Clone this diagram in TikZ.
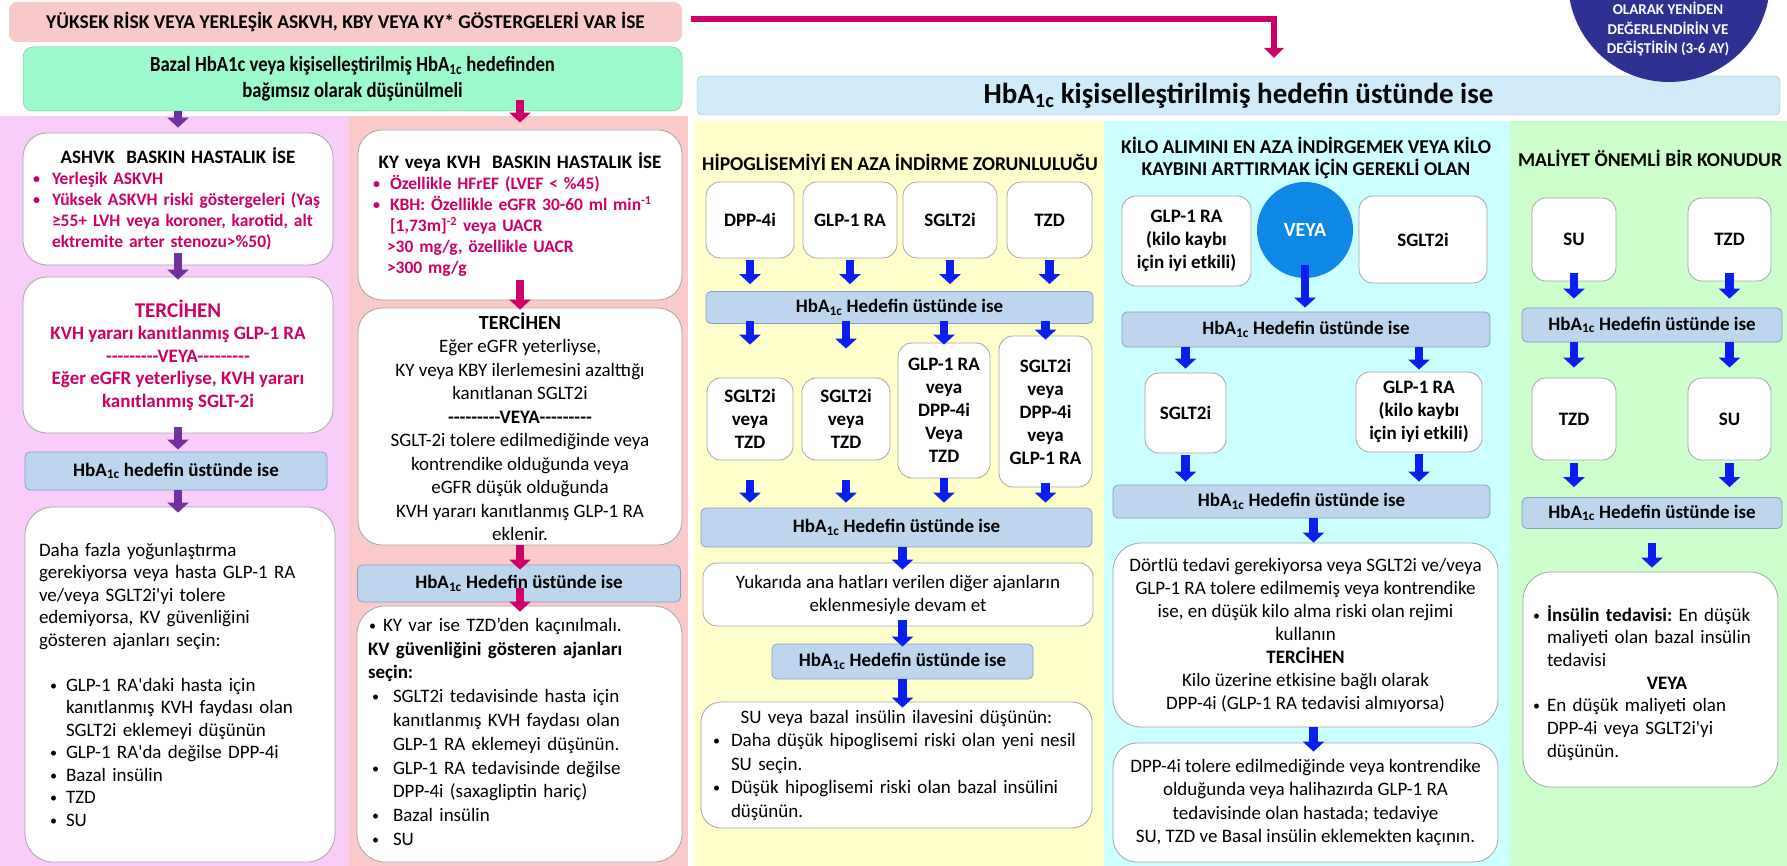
\documentclass[tikz,border=0pt]{standalone}
\usepackage{fontspec}
\setmainfont{Carlito}
\newfontfamily\grnfont[FakeStretch=0.87]{Carlito}
\usetikzlibrary{arrows.meta,calc}
\definecolor{colA}{RGB}{250,204,250}
\definecolor{colB}{RGB}{252,202,202}
\definecolor{colC}{RGB}{255,255,204}
\definecolor{colD}{RGB}{204,255,255}
\definecolor{colE}{RGB}{204,255,204}
\definecolor{topPink}{RGB}{250,202,202}
\definecolor{mint}{RGB}{157,250,205}
\definecolor{hbFill}{RGB}{189,214,238}
\definecolor{hbDraw}{RGB}{130,160,200}
\definecolor{barFill}{RGB}{208,236,250}
\definecolor{navy}{RGB}{46,49,146}
\definecolor{veyaBlue}{RGB}{15,135,228}
\definecolor{arrBlue}{RGB}{10,30,240}
\definecolor{arrPurple}{RGB}{112,48,160}
\definecolor{mag}{RGB}{204,0,102}
\definecolor{boxLine}{RGB}{165,165,165}
\setlength\parindent{0pt}
\frenchspacing
\newcommand\fsz[2]{\fontsize{#1}{#2}\selectfont}
\newcommand\hba{HbA\textsubscript{1c}}
\newcommand\bdot{{\fontsize{14}{14}\selectfont\raisebox{1pt}{\textbullet}}}
\newcommand\blt[2]{\par\hangindent=#2\hangafter=1\noindent\hbox to #2{\hskip#1\bdot\hfil}}
\newcommand\brk{\hfil\break}
\newcommand\veyaline{-{}-{}-{}-{}-{}-{}-{}-{}-VEYA-{}-{}-{}-{}-{}-{}-{}-{}-}
\newcommand\arw[5]{\draw[#1] ($(#2)+(0,#3)$) -- ($(#4)+(0,#5)$);}
\tikzset{
  wbox/.style={draw=boxLine, line width=0.8pt, fill=white, rounded corners=14pt, inner sep=0pt, align=center, font=\bfseries\fsz{19}{23}},
  hbox/.style={draw=hbDraw, line width=0.8pt, fill=hbFill, rounded corners=5pt, inner sep=0pt, font=\bfseries\fsz{19}{23}},
  arr/.style={line width=8.5pt, -{Triangle[width=21pt,length=10pt]}},
  barr/.style={arr, draw=arrBlue},
  parr/.style={arr, draw=arrPurple},
  marr/.style={arr, draw=mag},
  hdr/.style={font=\bfseries\fsz{19.6}{22}, align=center, inner sep=0pt},
}
\begin{document}
\begin{tikzpicture}[x=1pt,y=-1pt]
\useasboundingbox (0,0) rectangle (1787,866);
\fill[white] (0,0) rectangle (1787,866);
% column backgrounds
\fill[colA] (0,116) rectangle (349,866);
\fill[colB] (349,116) rectangle (688,866);
\fill[colC] (694,121) rectangle (1104,866);
\fill[colD] (1104,121) rectangle (1510,866);
\fill[colE] (1510,121) rectangle (1787,866);

% top
\node[fill=topPink, rounded corners=8pt, minimum width=673pt, minimum height=40pt, inner sep=0pt, font=\bfseries\fsz{19.5}{22}] (top) at (345.5,22) {YÜKSEK RİSK VEYA YERLEŞİK ASKVH, KBY VEYA KY* GÖSTERGELERİ VAR İSE};
\node[fill=mint, draw=mint!80!black, line width=0.5pt, rounded corners=10pt, minimum width=659pt, minimum height=64pt, inner sep=0pt, align=center, font=\grnfont\bfseries\fsz{21.5}{26}] (green) at (352.5,79) {Bazal HbA1c veya kişiselleştirilmiş \hba{} hedefinden\\bağımsız olarak düşünülmeli};
\node[draw=gray!60, fill=barFill, rounded corners=5pt, minimum width=1083pt, minimum height=39pt, inner sep=0pt, font=\bfseries\fsz{29}{33}] (bar) at (1238.5,95.5) {\hba{} kişiselleştirilmiş hedefin üstünde ise};
\node[circle, fill=navy, minimum size=202pt, inner sep=0pt] (circ) at (1669,-19) {};
\node[text=white, font=\bfseries\fsz{15}{19.5}, align=center, inner sep=0pt] (circt) at (1668,29) {OLARAK YENİDEN\\DEĞERLENDİRİN VE\\DEĞİŞTİRİN (3-6 AY)};
\coordinate (mtip) at (1274,58);
\draw[draw=mag, line width=6pt, -{Triangle[width=19pt,length=10pt]}, shorten <=9pt] ([yshift=3pt]top.east) -| (mtip);

% column 1
\node[wbox, rounded corners=24pt, text=mag, text width=290pt, inner xsep=10pt, minimum height=132pt, align=left, font=\bfseries\fsz{17.5}{21}] (ashvk) at (178,199) {{\centering\color{black}\fsz{19}{23}ASHVK\ \ BASKIN HASTALIK İSE\par}\blt{0pt}{19pt}Yerleşik ASKVH\blt{0pt}{19pt}Yüksek ASKVH riski göstergeleri (Yaş\brk ≥55+ LVH veya koroner, karotid, alt\brk ektremite arter stenozu>\%50)\par};
\node[wbox, rounded corners=24pt, text=mag, minimum width=310pt, minimum height=156pt, font=\bfseries\fsz{19}{22.5}] (terc1) at (178,355) {{\fsz{21}{25}TERCİHEN}\\KVH yararı kanıtlanmış GLP-1 RA\\\veyaline\\Eğer eGFR yeterliyse, KVH yararı\\kanıtlanmış SGLT-2i};
\node[hbox, minimum width=302pt, minimum height=38pt] (hb1) at (176,471) {\hba{} hedefin üstünde ise};
\node[wbox, rounded corners=28pt, text width=282pt, inner xsep=14pt, minimum height=355pt, align=left, font=\fsz{19}{22.5}] (fin1) at (180,684.5) {Daha fazla yoğunlaştırma\\gerekiyorsa veya hasta GLP-1 RA\\ve/veya SGLT2i\textquotesingle yi tolere\\edemiyorsa, KV güvenliğini\\gösteren ajanları seçin:\par\vspace{22.5pt}\blt{11pt}{27pt}GLP-1 RA\textquotesingle daki hasta için\brk kanıtlanmış KVH faydası olan\brk SGLT2i eklemeyi düşünün\blt{11pt}{27pt}GLP-1 RA\textquotesingle da değilse DPP-4i\blt{11pt}{27pt}Bazal insülin\blt{11pt}{27pt}TZD\blt{11pt}{27pt}SU\par};

% column 2
\node[wbox, rounded corners=24pt, text=mag, text width=300pt, inner xsep=12pt, minimum height=170pt, align=left, font=\bfseries\fsz{17.5}{21}] (ky) at (520,215) {{\centering\color{black}\fsz{19}{23}KY veya KVH\ \ BASKIN HASTALIK İSE\par}\blt{3pt}{20pt}Özellikle HFrEF (LVEF < \%45)\blt{3pt}{20pt}KBH: Özellikle eGFR 30-60 ml min\textsuperscript{-1}\brk [1,73m]\textsuperscript{-2} veya UACR\brk\hspace*{-3pt}>30 mg/g, özellikle UACR\brk\hspace*{-3pt}>300 mg/g\par};
\node[wbox, rounded corners=24pt, minimum width=324pt, minimum height=237pt, font=\fsz{19}{23.5}] (terc2) at (520,426.5) {{\bfseries\fsz{20}{24}TERCİHEN}\\Eğer eGFR yeterliyse,\\KY veya KBY ilerlemesini azalttığı\\kanıtlanan SGLT2i\\\textbf{\veyaline}\\SGLT-2i tolere edilmediğinde veya\\kontrendike olduğunda veya\\eGFR düşük olduğunda\\KVH yararı kanıtlanmış GLP-1 RA\\eklenir.};
\node[hbox, minimum width=323pt, minimum height=37pt] (hb2) at (519,583.5) {\hba{} Hedefin üstünde ise};
\node[wbox, rounded corners=28pt, text width=303pt, inner xsep=11pt, minimum height=256pt, align=left, font=\fsz{19}{23.8}] (fin2) at (519.5,734) {\blt{1pt}{15pt}KY var ise TZD’den kaçınılmalı.\par\textbf{KV güvenliğini gösteren ajanları\\seçin:}\blt{4pt}{25pt}SGLT2i tedavisinde hasta için\brk kanıtlanmış KVH faydası olan\brk GLP-1 RA eklemeyi düşünün.\blt{4pt}{25pt}GLP-1 RA tedavisinde değilse\brk DPP-4i (saxagliptin hariç)\blt{4pt}{25pt}Bazal insülin\blt{4pt}{25pt}SU\par\vspace{15pt}\hrule height 0pt};

% column 3
\node[hdr] (h3) at (900,162) {HİPOGLİSEMİYİ EN AZA İNDİRME ZORUNLULUĞU};
\node[wbox, minimum width=88pt, minimum height=76pt] (dpp) at (750,220) {DPP-4i};
\node[wbox, minimum width=94pt, minimum height=76pt] (glp) at (850,220) {GLP-1 RA};
\node[wbox, minimum width=94pt, minimum height=76pt] (sglt) at (950,220) {SGLT2i};
\node[wbox, minimum width=85pt, minimum height=76pt] (tzd) at (1049.5,220) {TZD};
\node[hbox, minimum width=387pt, minimum height=32pt] (hb3a) at (899.5,307.5) {\hba{} Hedefin üstünde ise};
\node[wbox, minimum width=86pt, minimum height=82pt] (r2a) at (750,419) {SGLT2i\\veya\\TZD};
\node[wbox, minimum width=88pt, minimum height=82pt] (r2b) at (846,419) {SGLT2i\\veya\\TZD};
\node[wbox, minimum width=92pt, minimum height=135pt] (r2c) at (944,410.5) {GLP-1 RA\\veya\\DPP-4i\\Veya\\TZD};
\node[wbox, minimum width=93pt, minimum height=151pt] (r2d) at (1045.5,411.5) {SGLT2i\\veya\\DPP-4i\\veya\\GLP-1 RA};
\node[hbox, minimum width=391pt, minimum height=39pt] (hb3b) at (896.5,527.5) {\hba{} Hedefin üstünde ise};
\node[wbox, minimum width=390pt, minimum height=63pt, font=\fsz{19}{23}] (yuk) at (898,594.5) {Yukarıda ana hatları verilen diğer ajanların\\eklenmesiyle devam et};
\node[hbox, minimum width=261pt, minimum height=35pt] (hb3c) at (902.5,661.5) {\hba{} Hedefin üstünde ise};
\node[wbox, rounded corners=20pt, text width=369pt, inner xsep=11pt, minimum height=126pt, align=left, font=\fsz{19}{23.5}] (su3) at (896.5,765) {{\centering SU veya bazal insülin ilavesini düşünün:\par}\blt{1pt}{19pt}Daha düşük hipoglisemi riski olan yeni nesil\brk SU seçin.\blt{1pt}{19pt}Düşük hipoglisemi riski olan bazal insülini\brk düşünün.\par};

% column 4
\node[hdr] (h4) at (1306,158) {KİLO ALIMINI EN AZA İNDİRGEMEK VEYA KİLO\\KAYBINI ARTTIRMAK İÇİN GEREKLİ OLAN};
\node[wbox, minimum width=129pt, minimum height=90pt] (g4a) at (1186.5,241) {GLP-1 RA\\(kilo kaybı\\için iyi etkili)};
\node[circle, fill=veyaBlue, minimum size=96pt, inner sep=0pt, text=white, font=\bfseries\fsz{20}{24}] (veya) at (1305,230) {VEYA};
\node[wbox, minimum width=128pt, minimum height=87pt] (s4a) at (1423,239.5) {SGLT2i};
\node[hbox, minimum width=368pt, minimum height=35pt] (hb4a) at (1306,329.5) {\hba{} Hedefin üstünde ise};
\node[wbox, minimum width=81pt, minimum height=80pt] (s4b) at (1185.5,413) {SGLT2i};
\node[wbox, minimum width=126pt, minimum height=80pt] (g4b) at (1419,412) {GLP-1 RA\\(kilo kaybı\\için iyi etkili)};
\node[hbox, minimum width=377pt, minimum height=33pt] (hb4b) at (1301.5,501.5) {\hba{} Hedefin üstünde ise};
\node[wbox, rounded corners=28pt, minimum width=385pt, minimum height=184pt, font=\fsz{19}{23}] (dort) at (1305.5,635) {Dörtlü tedavi gerekiyorsa veya SGLT2i ve/veya\\GLP-1 RA tolere edilmemiş veya kontrendike\\ise, en düşük kilo alma riski olan rejimi\\kullanın\\\textbf{TERCİHEN}\\Kilo üzerine etkisine bağlı olarak\\DPP-4i (GLP-1 RA tedavisi almıyorsa)};
\node[wbox, rounded corners=24pt, minimum width=385pt, minimum height=119pt, font=\fsz{19}{23.3}] (dpp4) at (1305.5,802.5) {DPP-4i tolere edilmediğinde veya kontrendike\\olduğunda veya halihazırda GLP-1 RA\\tedavisinde olan hastada; tedaviye\\SU, TZD ve Basal insülin eklemekten kaçının.};

% column 5
\node[hdr] (h5) at (1650,158) {MALİYET ÖNEMLİ BİR KONUDUR};
\node[wbox, minimum width=84pt, minimum height=83pt] (su5a) at (1574,239.5) {SU};
\node[wbox, minimum width=83pt, minimum height=83pt] (tzd5a) at (1729.5,239.5) {TZD};
\node[hbox, minimum width=260pt, minimum height=34pt] (hb5a) at (1652,325) {\hba{} Hedefin üstünde ise};
\node[wbox, minimum width=84pt, minimum height=82pt] (tzd5b) at (1574,419) {TZD};
\node[wbox, minimum width=83pt, minimum height=82pt] (su5b) at (1729.5,419) {SU};
\node[hbox, minimum width=260pt, minimum height=31pt] (hb5b) at (1652,513) {\hba{} Hedefin üstünde ise};
\node[wbox, rounded corners=28pt, text width=235pt, inner xsep=10pt, minimum height=215pt, align=left, font=\fsz{19}{22.7}] (ins5) at (1650.5,679.5) {\blt{0pt}{14pt}\textbf{İnsülin tedavisi:} En düşük\brk maliyeti olan bazal insülin\brk tedavisi\par{\centering\hspace*{33pt}\textbf{VEYA}\par}\blt{0pt}{14pt}En düşük maliyeti olan\brk DPP-4i veya SGLT2i\textquotesingle yi\brk düşünün.\par};

% arrows column 1
\arw{parr}{green.south -| ashvk.north}{0}{ashvk.north}{-5}
\arw{parr}{ashvk.south}{-12}{terc1.north}{3}
\arw{parr}{terc1.south}{-6}{terc1.south |- hb1.north}{-2}
\arw{parr}{hb1.south -| terc1.south}{0}{terc1.south |- fin1.north}{6}
% arrows column 2
\arw{marr}{green.south -| ky.north}{-11}{ky.north}{-7}
\arw{marr}{ky.south}{-20}{terc2.north}{2}
\arw{marr}{terc2.south}{0}{terc2.south |- hb2.north}{5}
\arw{marr}{hb2.south -| terc2.south}{-14}{terc2.south |- fin2.north}{6}
% arrows column 3
\foreach \n in {dpp,glp,sglt,tzd} {\arw{barr}{\n.south}{2}{\n.south |- hb3a.north}{-7}}
\arw{barr}{hb3a.south -| r2a.north}{-3}{r2a.north}{-33}
\arw{barr}{hb3a.south -| r2b.north}{-3}{r2b.north}{-29}
\arw{barr}{hb3a.south -| r2c.north}{-3}{r2c.north}{2}
\arw{barr}{hb3a.south -| r2d.north}{-3}{r2d.north}{4}
\arw{barr}{r2a.south}{20}{r2a.south |- hb3b.north}{-5}
\arw{barr}{r2b.south}{20}{r2b.south |- hb3b.north}{-5}
\arw{barr}{r2c.south}{0}{r2c.south |- hb3b.north}{-5}
\arw{barr}{r2d.south}{-4}{r2d.south |- hb3b.north}{-5}
\arw{barr}{hb3b.south -| hb3c.north}{0}{yuk.north -| hb3c.north}{7}
\arw{barr}{yuk.south -| hb3c.north}{-6}{hb3c.north}{3}
\arw{barr}{hb3c.south}{0}{hb3c.south |- su3.north}{6}
% arrows column 4
\arw{barr}{veya.center}{35}{veya.center |- hb4a.north}{-4}
\arw{barr}{hb4a.south -| s4b.north}{0}{s4b.north}{-4}
\arw{barr}{hb4a.south -| g4b.north}{0}{g4b.north}{-2}
\arw{barr}{s4b.south}{2}{s4b.south |- hb4b.north}{-3}
\arw{barr}{g4b.south}{2}{g4b.south |- hb4b.north}{-3}
\coordinate (dtop) at ([xshift=8pt]dort.north);
\coordinate (dbot) at ([xshift=8pt]dort.south);
\arw{barr}{hb4b.south -| dtop}{0}{dtop}{0}
\arw{barr}{dbot}{0}{dbot |- dpp4.north}{9}
% arrows column 5
\arw{barr}{su5a.south}{-8}{su5a.south |- hb5a.north}{-9}
\arw{barr}{tzd5a.south}{-8}{tzd5a.south |- hb5a.north}{-9}
\arw{barr}{hb5a.south -| tzd5b.north}{0}{tzd5b.north}{-10}
\arw{barr}{hb5a.south -| su5b.north}{0}{su5b.north}{-10}
\arw{barr}{tzd5b.south}{3}{tzd5b.south |- hb5b.north}{-10}
\arw{barr}{su5b.south}{3}{su5b.south |- hb5b.north}{-10}
\arw{barr}{hb5b.south}{14}{hb5b.south |- ins5.north}{-4}
\end{tikzpicture}
\end{document}
